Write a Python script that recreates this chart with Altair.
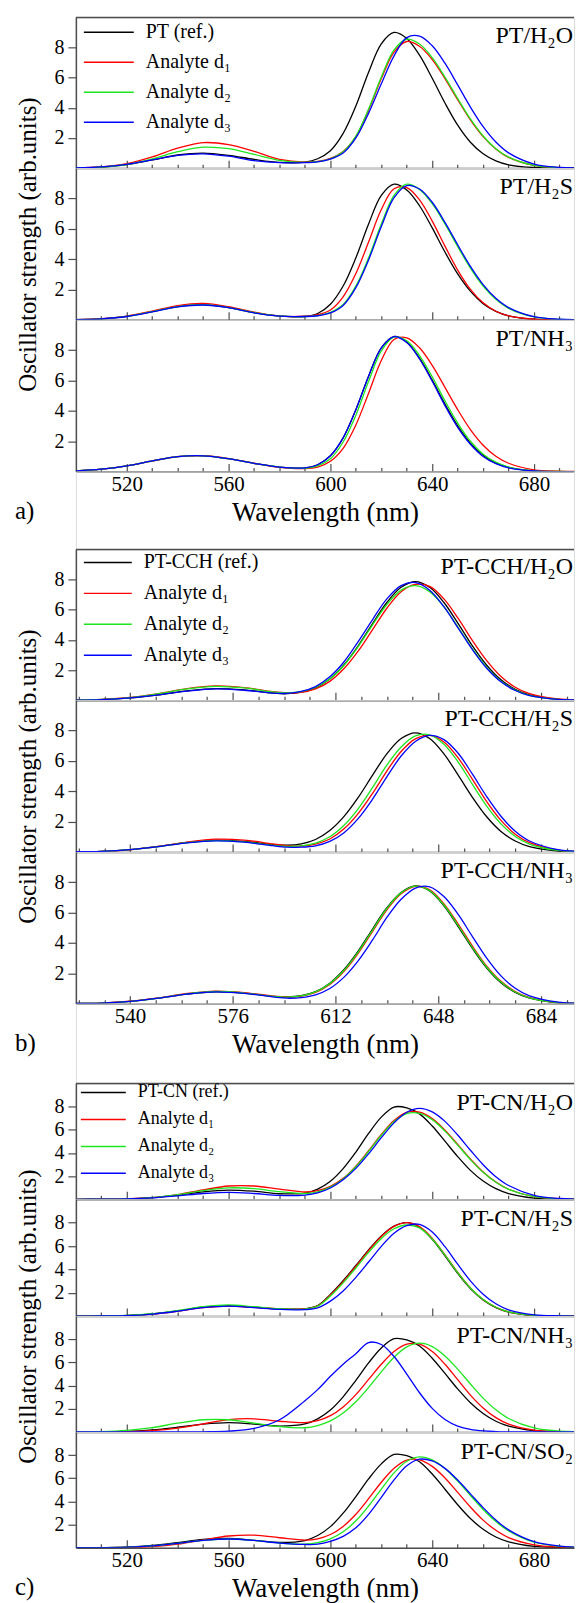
import altair as alt
import pandas as pd

FONT = "Liberation Serif"
COLORS = ["#000000", "#ff0000", "#1de61d", "#0000ff"]
AXIS_COLOR = "#4d4d4d"
TXT = "#000000"

# ---------------- data ----------------
names_a = ["PT (ref.)", "Analyte d₁", "Analyte d₂", "Analyte d₃"]
names_b = ["PT-CCH (ref.)", "Analyte d₁", "Analyte d₂", "Analyte d₃"]
names_c = ["PT-CN (ref.)", "Analyte d₁", "Analyte d₂", "Analyte d₃"]

wl_a = [500, 510, 520, 530, 540, 550, 560, 570, 580, 590, 595, 600, 605, 610, 615,
        620, 625, 630, 635, 640, 645, 650, 655, 660, 665, 670, 680, 690, 700]
wl_b = [521, 530, 540, 550, 560, 570, 580, 590, 595, 600, 605, 610, 615, 620, 625,
        630, 635, 640, 645, 650, 655, 660, 665, 670, 675, 680, 690, 700]
wl_c = [500, 510, 520, 530, 540, 550, 560, 570, 580, 590, 595, 600, 605, 610, 615,
        620, 625, 630, 635, 640, 645, 650, 655, 660, 665, 670, 680, 690, 700]

# a) PT/H2O
a1_ref = [.02, .07, .23, .54, .87, 1.0, .85, .58, .38, .40, .62, 1.15, 2.3, 4.12, 6.36, 8.25, 9.0, 8.60, 7.49, 5.96, 4.32, 2.85, 1.72, .95, .48, .22, .04, .01, 0]
a1_d1 = [.02, .08, .29, .74, 1.32, 1.69, 1.56, 1.11, .58, .40, .45, .65, 1.1, 2.09, 3.85, 5.94, 7.70, 8.4, 8.08, 7.20, 5.94, 4.54, 3.20, 2.09, 1.27, .71, .18, .03, 0]
a1_d2 = [.01, .07, .24, .61, 1.09, 1.39, 1.29, .91, .52, .38, .43, .62, 1.08, 2.13, 3.92, 6.04, 7.84, 8.55, 8.23, 7.33, 6.04, 4.62, 3.26, 2.13, 1.29, .73, .18, .03, 0]
a1_d3 = [.02, .08, .25, .54, .85, .95, .79, .50, .36, .36, .42, .6, 1.0, 2.0, 3.65, 5.6, 7.45, 8.66, 8.76, 8.12, 6.96, 5.52, 4.05, 2.75, 1.73, 1.01, .27, .05, .01]
# a) PT/H2S
a2_ref = [.02, .07, .23, .54, .87, 1.0, .81, .47, .25, .22, .42, 1.03, 2.23, 4.09, 6.32, 8.20, 8.94, 8.56, 7.52, 6.06, 4.47, 3.03, 1.89, 1.07, .56, .27, .04, 0, 0]
a2_d1 = [.02, .08, .25, .58, .94, 1.08, .87, .51, .24, .24, .34, .65, 1.52, 3.05, 5.13, 7.27, 8.64, 8.72, 7.91, 6.51, 4.86, 3.28, 2.01, 1.12, .57, .26, .04, 0, 0]
a2_d2 = [.02, .07, .23, .54, .87, 1.0, .81, .47, .24, .22, .28, .50, 1.02, 2.23, 4.09, 6.32, 8.20, 8.94, 8.60, 7.66, 6.32, 4.83, 3.41, 2.23, 1.35, .76, .19, .03, 0]
a2_d3 = [.02, .07, .22, .52, .85, .98, .80, .46, .24, .22, .27, .46, .95, 2.12, 3.95, 6.15, 8.05, 8.85, 8.62, 7.75, 6.42, 4.95, 3.52, 2.32, 1.42, .81, .21, .04, 0]
# a) PT/NH3
a3_ref = [.05, .16, .38, .70, .98, 1.04, .85, .54, .30, .24, .45, 1.04, 2.22, 4.08, 6.29, 8.16, 8.9, 8.53, 7.48, 6.03, 4.45, 3.02, 1.88, 1.07, .56, .27, .04, 0, 0]
a3_d1 = [.05, .16, .38, .70, .98, 1.05, .86, .55, .28, .20, .30, .68, 1.53, 3.07, 5.17, 7.32, 8.71, 8.81, 8.16, 7.0, 5.55, 4.08, 2.77, 1.74, 1.01, .55, .12, .03, 0]
a3_d2 = [.05, .16, .38, .70, .98, 1.04, .85, .54, .30, .22, .38, .85, 1.95, 3.72, 5.95, 7.95, 8.86, 8.62, 7.65, 6.25, 4.66, 3.2, 2.0, 1.15, .62, .3, .05, .01, 0]
a3_d3 = [.05, .16, .38, .70, .98, 1.04, .85, .54, .30, .24, .45, 1.04, 2.22, 4.08, 6.29, 8.16, 8.9, 8.5, 7.42, 5.95, 4.35, 2.92, 1.80, 1.0, .52, .25, .04, 0, 0]

# b) PT-CCH/H2O
b1_ref = [.01, .04, .15, .36, .62, .77, .68, .47, .43, .53, .82, 1.41, 2.35, 3.62, 5.08, 6.48, 7.49, 7.87, 7.49, 6.48, 5.08, 3.60, 2.32, 1.35, .72, .35, .06, .01]
b1_d1 = [.01, .05, .18, .44, .77, .95, .84, .56, .48, .52, .75, 1.25, 2.10, 3.27, 4.68, 6.10, 7.20, 7.68, 7.55, 6.72, 5.42, 3.95, 2.62, 1.57, .86, .43, .08, .01]
b1_d2 = [.01, .05, .17, .43, .75, .92, .81, .55, .49, .57, .84, 1.40, 2.32, 3.57, 5.0, 6.35, 7.3, 7.6, 7.2, 6.2, 4.83, 3.4, 2.18, 1.26, .67, .32, .05, .01]
b1_d3 = [.01, .04, .15, .35, .60, .75, .66, .47, .45, .58, .90, 1.55, 2.55, 3.9, 5.35, 6.72, 7.6, 7.8, 7.3, 6.2, 4.78, 3.35, 2.12, 1.22, .64, .30, .05, .01]
# b) PT-CCH/H2S
b2_ref = [.01, .04, .15, .36, .62, .78, .69, .48, .44, .53, .82, 1.41, 2.34, 3.60, 5.06, 6.46, 7.47, 7.85, 7.47, 6.46, 5.06, 3.60, 2.32, 1.35, .72, .35, .06, .01]
b2_d1 = [.01, .04, .14, .36, .65, .84, .78, .53, .42, .39, .51, .85, 1.52, 2.54, 3.86, 5.33, 6.62, 7.45, 7.68, 7.25, 6.20, 4.78, 3.32, 2.08, 1.17, .61, .12, .02]
b2_d2 = [.01, .04, .15, .35, .61, .75, .66, .43, .37, .40, .58, 1.0, 1.76, 2.86, 4.25, 5.72, 6.92, 7.65, 7.72, 7.10, 5.92, 4.45, 3.02, 1.85, 1.02, .52, .10, .02]
b2_d3 = [.01, .04, .15, .35, .60, .73, .64, .41, .32, .31, .40, .69, 1.27, 2.21, 3.48, 4.95, 6.32, 7.28, 7.68, 7.40, 6.50, 5.12, 3.65, 2.35, 1.36, .72, .15, .03]
# b) PT-CCH/NH3
b3_ref = [.01, .04, .15, .36, .63, .78, .69, .48, .44, .52, .79, 1.35, 2.25, 3.48, 4.92, 6.32, 7.33, 7.76, 7.42, 6.45, 5.08, 3.64, 2.35, 1.38, .74, .36, .06, .01]
b3_d1 = [.01, .04, .16, .38, .67, .83, .73, .50, .44, .50, .74, 1.27, 2.13, 3.33, 4.76, 6.18, 7.24, 7.73, 7.50, 6.58, 5.25, 3.79, 2.47, 1.47, .80, .40, .07, .01]
b3_d2 = [.01, .04, .15, .37, .65, .80, .70, .48, .43, .51, .77, 1.32, 2.20, 3.42, 4.85, 6.27, 7.30, 7.74, 7.45, 6.50, 5.15, 3.70, 2.40, 1.42, .77, .38, .07, .01]
b3_d3 = [.01, .04, .15, .36, .63, .78, .68, .45, .36, .40, .58, 1.0, 1.75, 2.84, 4.20, 5.68, 6.88, 7.62, 7.70, 7.06, 5.88, 4.42, 3.0, 1.83, 1.01, .51, .10, .02]

# c) PT-CN/H2O
c1_ref = [0, .01, .04, .15, .37, .65, .80, .70, .48, .54, .88, 1.56, 2.65, 4.08, 5.69, 7.10, 7.97, 7.90, 7.38, 6.33, 5.02, 3.69, 2.50, 1.58, .92, .50, .11, .02, 0]
c1_d1 = [0, .01, .04, .14, .41, .81, 1.15, 1.15, .88, .63, .74, 1.11, 1.81, 2.87, 4.20, 5.60, 6.81, 7.51, 7.52, 6.97, 5.97, 4.74, 3.48, 2.36, 1.49, .87, .23, .05, .01]
c1_d2 = [0, .01, .04, .15, .40, .75, .99, .92, .66, .50, .65, 1.05, 1.76, 2.81, 4.13, 5.53, 6.72, 7.41, 7.42, 6.88, 5.89, 4.68, 3.43, 2.33, 1.47, .86, .23, .05, .01]
c1_d3 = [0, .01, .04, .13, .30, .50, .60, .50, .34, .37, .56, .98, 1.68, 2.67, 3.93, 5.32, 6.60, 7.52, 7.85, 7.55, 6.73, 5.55, 4.24, 2.99, 1.95, 1.19, .35, .07, .02]
# c) PT-CN/H2S
c2_ref = [0, .01, .05, .19, .45, .76, .90, .76, .62, .62, .90, 1.86, 3.03, 4.33, 5.66, 6.86, 7.70, 8.0, 7.62, 6.58, 5.16, 3.66, 2.36, 1.38, .73, .35, .06, .01, 0]
c2_d1 = [0, .01, .04, .17, .42, .72, .86, .74, .62, .62, .88, 1.80, 2.95, 4.25, 5.60, 6.82, 7.68, 8.0, 7.66, 6.66, 5.25, 3.74, 2.42, 1.42, .76, .36, .06, .01, 0]
c2_d2 = [0, .01, .05, .20, .47, .80, .95, .80, .63, .60, .85, 1.72, 2.85, 4.12, 5.45, 6.65, 7.48, 7.8, 7.55, 6.60, 5.22, 3.72, 2.40, 1.42, .76, .36, .06, .01, 0]
c2_d3 = [0, .01, .04, .17, .42, .72, .85, .72, .58, .55, .70, 1.28, 2.15, 3.32, 4.63, 5.97, 7.1, 7.75, 7.85, 7.2, 5.95, 4.45, 3.02, 1.88, 1.06, .54, .11, .02, 0]
# c) PT-CN/NH3
c3_ref = [0, .01, .04, .17, .40, .67, .80, .67, .50, .69, 1.13, 1.89, 3.03, 4.45, 5.96, 7.25, 8.05, 7.95, 7.42, 6.36, 5.05, 3.71, 2.52, 1.59, .92, .50, .11, .02, 0]
c3_d1 = [0, 0, .03, .11, .33, .70, 1.06, 1.13, .92, .80, .97, 1.40, 2.16, 3.22, 4.53, 5.84, 6.94, 7.57, 7.57, 6.94, 5.84, 4.51, 3.18, 2.07, 1.23, .67, .15, .03, 0]
c3_d2 = [.01, .03, .13, .37, .75, 1.05, 1.05, .75, .45, .36, .55, .95, 1.63, 2.60, 3.83, 5.19, 6.44, 7.34, 7.66, 7.37, 6.56, 5.42, 4.14, 2.92, 1.91, 1.16, .34, .07, .02]
c3_d3 = [0, 0, 0, 0, 0, .01, .06, .30, 1.05, 2.7, 3.65, 4.8, 5.85, 6.75, 7.72, 7.55, 6.51, 4.99, 3.38, 2.03, 1.07, .50, .21, .08, .03, .01, 0, 0, 0]
# c) PT-CN/SO2
c4_ref = [0, .01, .05, .19, .44, .71, .80, .64, .46, .62, 1.05, 1.82, 2.98, 4.42, 5.94, 7.24, 8.05, 7.95, 7.42, 6.36, 5.05, 3.71, 2.52, 1.59, .92, .50, .11, .02, 0]
c4_d1 = [0, 0, .03, .10, .31, .67, 1.01, 1.08, .86, .66, .77, 1.14, 1.84, 2.89, 4.23, 5.65, 6.86, 7.57, 7.58, 7.02, 6.02, 4.78, 3.51, 2.38, 1.50, .87, .24, .05, .01]
c4_d2 = [0, .01, .05, .16, .38, .63, .75, .63, .40, .31, .44, .76, 1.37, 2.32, 3.60, 5.06, 6.46, 7.47, 7.85, 7.58, 6.84, 5.75, 4.51, 3.30, 2.26, 1.44, .47, .12, .02]
c4_d3 = [0, .01, .05, .16, .38, .63, .75, .63, .40, .28, .30, .55, .98, 1.72, 2.88, 4.34, 5.85, 7.07, 7.64, 7.49, 6.85, 5.84, 4.65, 3.46, 2.39, 1.54, .52, .14, .03]

ticks_ac = list(range(510, 700, 10))
ticks_b = list(range(522, 700, 9))
major_ac = "datum.value % 40 === 0"
major_b = "(datum.value - 540) % 36 === 0"

W = 499
XDOM_AC = [500, 695.7]
XDOM_B = [521, 695.6]


def panel(wl, series, names, label, xdom, ticks, major, h, top=False, bottom=False,
          legend=None, ytitle=False, ytitle_y=None, tag=None, lab_dy=19):
    sx = alt.Scale(domain=xdom, nice=False, zero=False)
    sy = alt.Scale(domain=[0, 10], nice=False, zero=False)
    sc = alt.Scale(domain=names, range=COLORS)

    xk = dict(values=ticks, tickSize=alt.ExprRef(expr=f"({major}) ? -8 : -4"),
              tickColor=AXIS_COLOR, tickWidth=1.2, domainColor=AXIS_COLOR, domainWidth=1.5,
              grid=False, labels=bottom)
    if bottom:
        xk.update(labelExpr=f"({major}) ? datum.label : ''", labelFont=FONT, labelFontSize=21,
                  labelColor=TXT, labelPadding=10, labelFlush=False, labelOverlap=False,
                  title="Wavelength (nm)", titleFont=FONT, titleFontSize=27,
                  titleFontWeight="normal", titleColor=TXT, titlePadding=1)
    else:
        xk.update(title=None)
    xaxis = alt.Axis(**xk)

    yk = dict(values=[2, 4, 6, 8], tickSize=8, tickColor=AXIS_COLOR, tickWidth=1.2,
              domainColor=AXIS_COLOR, domainWidth=1.5, grid=False, labelFont=FONT,
              labelFontSize=20, labelColor=TXT, labelPadding=4)
    if ytitle:
        yk.update(title="Oscillator strength (arb.units)", titleFont=FONT, titleFontSize=25,
                  titleFontWeight="normal", titleColor=TXT, titlePadding=13)
        if ytitle_y is not None:
            yk.update(titleY=ytitle_y)
    else:
        yk.update(title=None)
    yaxis = alt.Axis(**yk)

    frames = []
    for nm, vals in zip(names, series):
        frames.append(pd.DataFrame({"wl": wl, "f": vals, "s": nm}))
    df = pd.concat(frames, ignore_index=True)

    lines = alt.Chart(df).mark_line(interpolate="catmull-rom", strokeWidth=1.3, clip=True).encode(
        x=alt.X("wl:Q", scale=sx, axis=xaxis),
        y=alt.Y("f:Q", scale=sy, axis=yaxis),
        color=alt.Color("s:N", scale=sc, legend=legend),
    )
    one = pd.DataFrame({"t": [label]})
    txt = alt.Chart(one).mark_text(
        align="right", baseline="middle", dx=-1, dy=lab_dy, font=FONT, fontSize=24, color=TXT
    ).encode(
        x=alt.X(datum=xdom[1], type="quantitative", scale=sx, axis=xaxis),
        y=alt.Y(datum=10, type="quantitative", scale=sy, axis=yaxis),
        text="t:N",
    )
    layers = [lines, txt]
    if top:
        frame = alt.Chart(one).mark_rule(color=AXIS_COLOR, strokeWidth=1.5).encode(
            y=alt.Y(datum=10, type="quantitative", scale=sy, axis=yaxis)
        )
        layers.append(frame)
    ch = alt.layer(*layers).properties(width=W, height=h)
    if tag:
        ch = ch.properties(title=alt.TitleParams(tag, orient="bottom", anchor="start", frame="group",
                                                 dx=-61, offset=-27, font=FONT, fontSize=25,
                                                 fontWeight="normal", color=TXT))
    return ch


def leg(x, y, size, rowpad, clip, symlen):
    return alt.Legend(orient="none", legendX=x, legendY=y, title=None, symbolType="stroke",
                      symbolSize=symlen * symlen, symbolStrokeWidth=1.5, labelFont=FONT,
                      labelFontSize=size, labelColor=TXT, labelOffset=11, rowPadding=rowpad,
                      clipHeight=clip, padding=0)


def spacer(h):
    d = pd.DataFrame({"v": [0]})
    return alt.Chart(d).mark_point(opacity=0).encode(
        x=alt.X("v:Q", axis=None), y=alt.Y("v:Q", axis=None)
    ).properties(width=W, height=h)


a1 = panel(wl_a, [a1_ref, a1_d1, a1_d2, a1_d3], names_a, "PT/H₂O", XDOM_AC, ticks_ac, major_ac, 151,
           top=True, legend=leg(7, 5, 20, 10, 20, 50))
a2 = panel(wl_a, [a2_ref, a2_d1, a2_d2, a2_d3], names_a, "PT/H₂S", XDOM_AC, ticks_ac, major_ac, 152,
           ytitle=True)
a3 = panel(wl_a, [a3_ref, a3_d1, a3_d2, a3_d3], names_a, "PT/NH₃", XDOM_AC, ticks_ac, major_ac, 152,
           bottom=True, tag="a)")

b1 = panel(wl_b, [b1_ref, b1_d1, b1_d2, b1_d3], names_b, "PT-CCH/H₂O", XDOM_B, ticks_b, major_b, 151,
           top=True, legend=leg(7, 3, 20, 11, 20, 48), lab_dy=18)
b2 = panel(wl_b, [b2_ref, b2_d1, b2_d2, b2_d3], names_b, "PT-CCH/H₂S", XDOM_B, ticks_b, major_b, 152,
           ytitle=True)
b3 = panel(wl_b, [b3_ref, b3_d1, b3_d2, b3_d3], names_b, "PT-CCH/NH₃", XDOM_B, ticks_b, major_b, 152,
           bottom=True, tag="b)")

c1 = panel(wl_c, [c1_ref, c1_d1, c1_d2, c1_d3], names_c, "PT-CN/H₂O", XDOM_AC, ticks_ac, major_ac, 116,
           top=True, legend=leg(4, 0, 18, 9, 18, 45), lab_dy=20)
c2 = panel(wl_c, [c2_ref, c2_d1, c2_d2, c2_d3], names_c, "PT-CN/H₂S", XDOM_AC, ticks_ac, major_ac, 117,
           ytitle=True, ytitle_y=117, lab_dy=20)
c3 = panel(wl_c, [c3_ref, c3_d1, c3_d2, c3_d3], names_c, "PT-CN/NH₃", XDOM_AC, ticks_ac, major_ac, 116,
           lab_dy=20)
c4 = panel(wl_c, [c4_ref, c4_d1, c4_d2, c4_d3], names_c, "PT-CN/SO₂", XDOM_AC, ticks_ac, major_ac, 116,
           bottom=True, tag="c)", lab_dy=20)

RES = dict(x="independent", y="independent", color="independent")

chart = alt.VConcatChart(
    vconcat=[a1, a2, a3, spacer(78), b1, b2, b3, spacer(80), c1, c2, c3, c4],
    spacing=0, bounds="flush",
).resolve_scale(**RES).properties(
    padding={"left": 6, "top": 6, "right": 0, "bottom": 0}
).configure_view(stroke=None).configure(
    font=FONT, background="white"
).configure_axis(labelFont=FONT, titleFont=FONT).configure_legend(labelFont=FONT).configure_title(
    font=FONT
).configure_text(font=FONT)

chart.save("out.html", embed_options={"renderer": "svg", "actions": False})
